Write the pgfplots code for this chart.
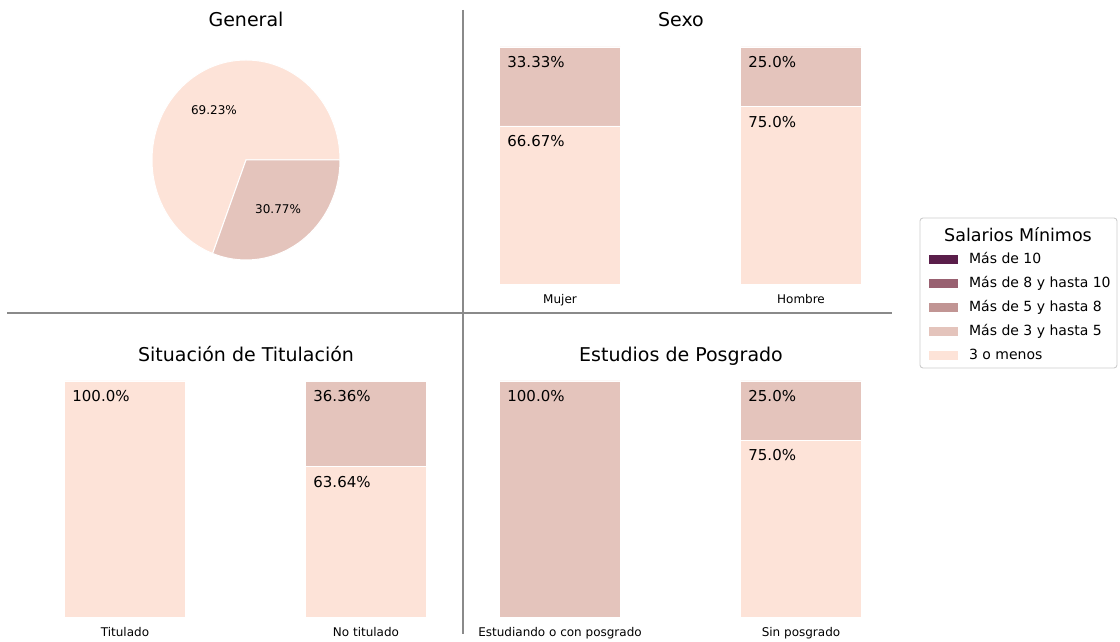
\documentclass[border=0pt]{standalone}
\usepackage{fontspec}
\setmainfont{DejaVu Sans}
\usepackage{pgfplots}
\pgfplotsset{compat=1.18}
\definecolor{smA}{HTML}{5A1E4A}% Más de 10
\definecolor{smB}{HTML}{996171}% Más de 8 y hasta 10
\definecolor{smC}{HTML}{C19594}% Más de 5 y hasta 8
\definecolor{smD}{HTML}{E4C4BC}% Más de 3 y hasta 5
\definecolor{smE}{HTML}{FDE3D8}% 3 o menos
\definecolor{sep}{HTML}{8A8A8A}
\newcommand{\fs}[1]{\fontsize{#1}{#1}\selectfont}

% stacked labels sit mid-segment; lift them by half the segment (1.18pt per %)
\pgfplotsset{
  panel/.style={
    scale only axis, anchor=south west,
    width=482pt, height=236pt,
    xmin=-0.5, xmax=1.5, ymin=0, ymax=100,
    ybar stacked, bar width=0.5, clip=false,
    axis line style={draw=none},
    xtick={0,1}, xtick style={draw=none}, ytick=\empty,
    xticklabel style={font=\fs{12}, anchor=base, inner sep=0pt, yshift=-20pt},
    point meta=explicit symbolic,
    visualization depends on=rawy \as \rawy,
    nodes near coords,
    nodes near coords style={font=\fs{15}, anchor=north west, inner sep=0pt,
      xshift=-53pt, yshift={\rawy*1.18pt-9pt}, text=black},
  },
  seg/.style={fill=#1, draw=white, line width=0.8pt},
}

\begin{document}
\begin{tikzpicture}[x=1pt,y=1pt]
\path[use as bounding box] (0,0) rectangle (1120,642);

% separators
\draw[sep, line width=1.8pt] (463,632) -- (463,8);
\draw[sep, line width=1.8pt] (7,329) -- (892,329);

% titles
\node[font=\fs{19}, anchor=base] at (246,615) {General};
\node[font=\fs{19}, anchor=base] at (681,615) {Sexo};
\node[font=\fs{19}, anchor=base] at (246,280) {Situación de Titulación};
\node[font=\fs{19}, anchor=base] at (681,280) {Estudios de Posgrado};

% General (pie)
\begin{axis}[at={(152pt,382pt)}, anchor=south west, scale only axis,
  width=188pt, height=200pt, xmin=-1, xmax=1, ymin=-1, ymax=1,
  hide axis, clip=false]
\fill[smE, draw=white, line width=1pt] (axis cs:0,0) -- (axis cs:1,0)
  arc[start angle=0, end angle={3.6*69.23}, x radius=94pt, y radius=100pt] -- cycle;
\fill[smD, draw=white, line width=1pt] (axis cs:0,0) -- (axis cs:1,0)
  arc[start angle=360, end angle={3.6*69.23}, x radius=94pt, y radius=100pt] -- cycle;
\node[font=\fs{12}] at (axis cs:-0.341,0.494) {69.23\%};
\node[font=\fs{12}] at (axis cs:0.341,-0.494) {30.77\%};
\end{axis}

% Sexo
\begin{axis}[panel, at={(439.5pt,358pt)}, height=237pt,
  xticklabels={Mujer,Hombre}]
\addplot[seg=smE] coordinates {(0,66.67) [66.67\%] (1,75.0) [75.0\%]};
\addplot[seg=smD] coordinates {(0,33.33) [33.33\%] (1,25.0) [25.0\%]};
\end{axis}

% Situación de Titulación
\begin{axis}[panel, at={(4.5pt,25pt)},
  xticklabels={Titulado,No titulado}]
\addplot[seg=smE] coordinates {(0,100.0) [100.0\%] (1,63.64) [63.64\%]};
\addplot[seg=smD] coordinates {(0,0) [{}] (1,36.36) [36.36\%]};
\end{axis}

% Estudios de Posgrado
\begin{axis}[panel, at={(439.5pt,25pt)},
  xticklabels={Estudiando o con posgrado,Sin posgrado}]
\addplot[seg=smE] coordinates {(0,0) [{}] (1,75.0) [75.0\%]};
\addplot[seg=smD] coordinates {(0,100.0) [100.0\%] (1,25.0) [25.0\%]};
\end{axis}

% legend
\draw[black!20, line width=0.9pt, rounded corners=3pt, fill=white] (920,274) rectangle (1117,424);
\node[font=\fs{17.5}, anchor=base] at (1018,400) {Salarios Mínimos};
\begin{axis}[at={(920pt,274pt)}, anchor=south west, scale only axis,
  width=197pt, height=150pt, hide axis, xmin=0, xmax=1, ymin=0, ymax=1,
  legend image code/.code={\fill[#1] (0pt,-4.5pt) rectangle (29pt,4.5pt);},
  legend cell align=left,
  legend style={at={(0.03,0.78)}, anchor=north west, draw=none, fill=none,
    font=\fs{14}, column sep=11pt, row sep=10.5pt,
    nodes={inner sep=0pt, text height=10.5pt, text depth=3pt}}]
\addlegendimage{fill=smA, draw=none}\addlegendentry{Más de 10}
\addlegendimage{fill=smB, draw=none}\addlegendentry{Más de 8 y hasta 10}
\addlegendimage{fill=smC, draw=none}\addlegendentry{Más de 5 y hasta 8}
\addlegendimage{fill=smD, draw=none}\addlegendentry{Más de 3 y hasta 5}
\addlegendimage{fill=smE, draw=none}\addlegendentry{3 o menos}
\end{axis}
\end{tikzpicture}
\end{document}
